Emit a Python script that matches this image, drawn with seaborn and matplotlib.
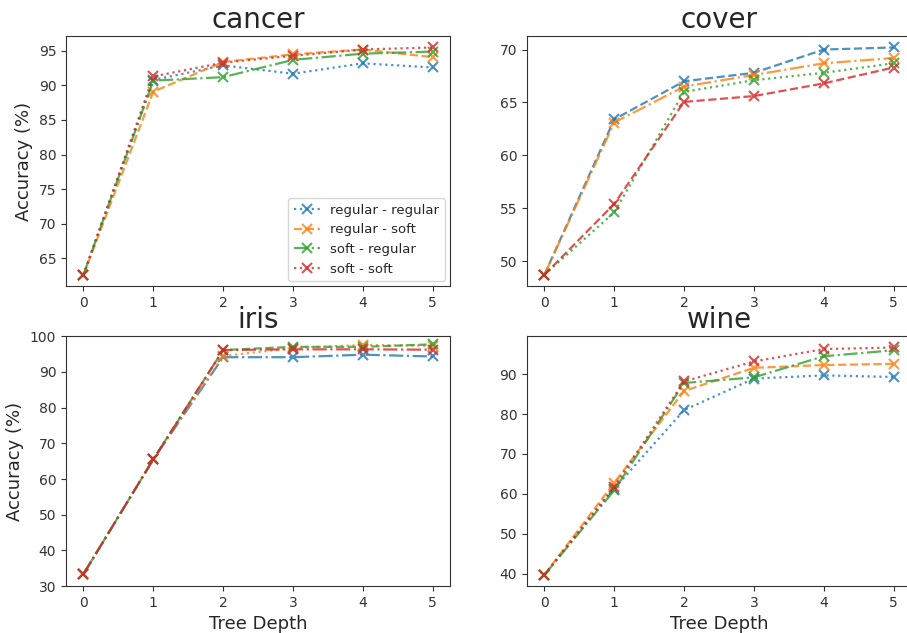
import numpy as np
import pandas as pd
import matplotlib
matplotlib.use("Agg")
import matplotlib.pyplot as plt
import seaborn as sns

# Tree depth on the x axis
depths = [0, 1, 2, 3, 4, 5]
methods = ["regular - regular", "regular - soft", "soft - regular", "soft - soft"]

# Accuracy (%) per dataset, one list per method
cancer_rr = [62.6, 90.8, 92.9, 91.7, 93.2, 92.6]
cancer_rs = [62.6, 89.1, 93.4, 94.5, 95.2, 94.1]
cancer_sr = [62.6, 90.7, 91.2, 93.7, 94.6, 94.9]
cancer_ss = [62.6, 91.3, 93.3, 94.3, 95.2, 95.5]

cover_rr = [48.7, 63.4, 67.0, 67.8, 70.0, 70.2]
cover_rs = [48.7, 63.1, 66.5, 67.6, 68.7, 69.2]
cover_sr = [48.7, 54.6, 66.0, 67.1, 67.8, 68.7]
cover_ss = [48.7, 55.4, 65.05, 65.6, 66.8, 68.3]

iris_rr = [33.4, 65.5, 94.1, 94.1, 94.8, 94.3]
iris_rs = [33.4, 65.5, 94.4, 96.7, 97.5, 97.3]
iris_sr = [33.4, 65.5, 96.1, 97.0, 97.0, 97.7]
iris_ss = [33.4, 65.5, 96.1, 96.3, 96.3, 96.2]

wine_rr = [39.7, 61.3, 81.0, 88.9, 89.7, 89.3]
wine_rs = [39.7, 62.8, 85.8, 91.6, 92.3, 92.6]
wine_sr = [39.7, 60.9, 87.8, 89.2, 94.5, 96.0]
wine_ss = [39.7, 61.8, 88.2, 93.2, 96.3, 96.7]

datasets = ["cancer", "cover", "iris", "wine"]
results = {
    "cancer": [cancer_rr, cancer_rs, cancer_sr, cancer_ss],
    "cover": [cover_rr, cover_rs, cover_sr, cover_ss],
    "iris": [iris_rr, iris_rs, iris_sr, iris_ss],
    "wine": [wine_rr, wine_rs, wine_sr, wine_ss],
}
# line styles were picked per subplot
styles = {
    "cancer": [":", "--", "-.", ":"],
    "cover": ["--", "-.", ":", "--"],
    "iris": ["-.", ":", "--", "-."],
    "wine": [":", "--", "-.", ":"],
}
colors = sns.color_palette("tab10", 4)

sns.set_style("ticks")
plt.rcParams["font.family"] = ["DejaVu Sans"]

fig, axes = plt.subplots(2, 2, figsize=(9.07, 6.33), dpi=100)
positions = [
    [0.0728, 0.548, 0.4234, 0.395],
    [0.581, 0.548, 0.4234, 0.395],
    [0.0728, 0.074, 0.4234, 0.395],
    [0.581, 0.074, 0.4234, 0.395],
]

for i, (name, ax) in enumerate(zip(datasets, axes.flat)):
    ax.set_position(positions[i])
    for j, method in enumerate(methods):
        df = pd.DataFrame({"depth": depths, "acc": results[name][j]})
        sns.lineplot(data=df, x="depth", y="acc", ax=ax, color=colors[j],
                     linestyle=styles[name][j], marker="x", markersize=7,
                     markeredgecolor=colors[j], markeredgewidth=1.5,
                     linewidth=1.6, alpha=0.8, label=method)
    ax.set_title(name, fontsize=20, pad=6)
    ax.set_xticks(depths)
    ax.tick_params(labelsize=10, colors="#333333")
    ax.set_xlabel("Tree Depth" if i >= 2 else "", fontsize=13)
    ax.set_ylabel("Accuracy (%)" if i % 2 == 0 else "", fontsize=13)
    for s in ax.spines.values():
        s.set_visible(True)
        s.set_color("#333333")
    if name == "cancer":
        ax.legend(loc="lower right", fontsize=9.5, borderaxespad=0.4)
    else:
        ax.get_legend().remove()

axes[1, 0].set_ylim(30, 100)

plt.savefig("out.png", dpi=100)
plt.close()
